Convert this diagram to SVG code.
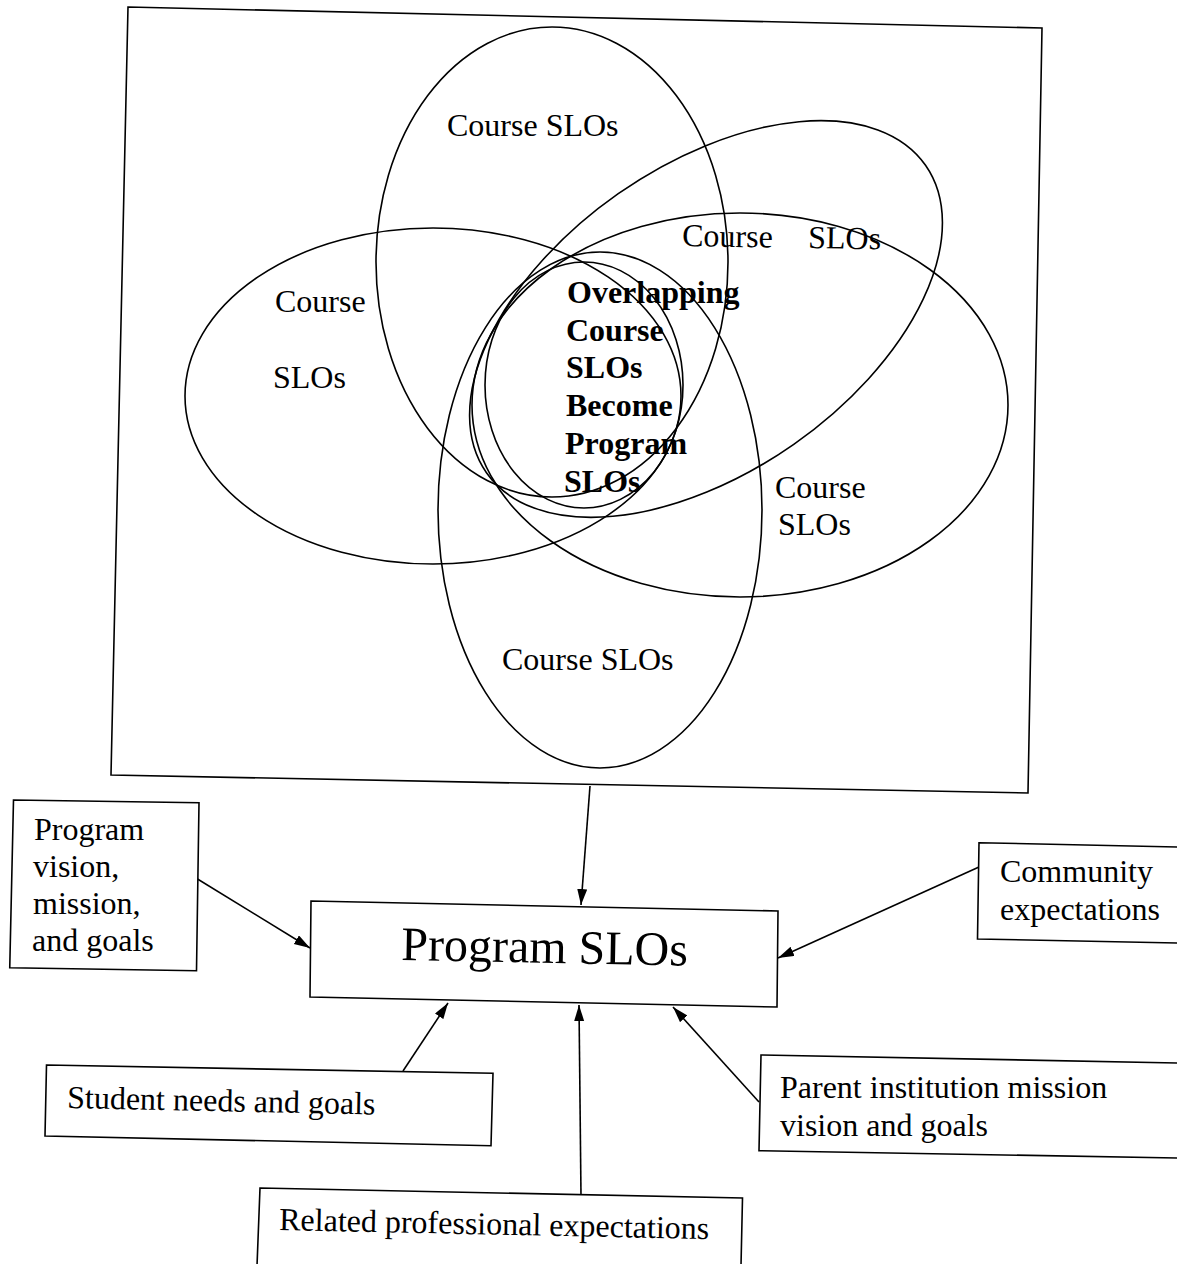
<svg xmlns="http://www.w3.org/2000/svg" width="1177" height="1264" viewBox="0 0 1177 1264">
<defs>
<style>
.ln{fill:none;stroke:#000;stroke-width:1.6}
.bx{fill:#fff;stroke:#000;stroke-width:1.6}
.t{font-family:"Liberation Serif","Times New Roman",serif;font-size:32px;fill:#000}
.b{font-weight:bold}
.big{font-size:48px}
.cn{fill:none;stroke:#000;stroke-width:1.6}
</style>
<marker id="ah" markerUnits="userSpaceOnUse" markerWidth="17" markerHeight="11" refX="16" refY="5" orient="auto">
<path d="M0,0 L16,5 L0,10 z" fill="#000"/>
</marker>
</defs>
<rect width="1177" height="1264" fill="#fff"/>

<g id="venn-frame">
<polygon class="ln" points="128,7 1042,28 1028,793 111,775"/>
</g>

<g id="ellipses">
<ellipse id="e-top" class="ln" cx="552" cy="262" rx="176" ry="235"/>
<ellipse id="e-left" class="ln" cx="433" cy="396" rx="248" ry="168"/>
<ellipse id="e-tilted" class="ln" cx="706" cy="319" rx="268" ry="153" transform="rotate(-35 706 319)"/>
<ellipse id="e-right" class="ln" cx="740" cy="405" rx="268" ry="192"/>
<ellipse id="e-bottom" class="ln" cx="600" cy="510" rx="162" ry="258"/>
<ellipse id="e-inner" class="ln" cx="584" cy="385" rx="99" ry="123"/>
</g>

<g id="venn-labels">
<text class="t" x="447" y="136">Course SLOs</text>
<text class="t" x="275" y="312">Course</text>
<text class="t" x="273" y="388">SLOs</text>
<text class="t" x="682" y="246" transform="rotate(1 682 246)">Course</text>
<text class="t" x="808" y="248" transform="rotate(1 808 248)">SLOs</text>
<text class="t" x="775" y="498">Course</text>
<text class="t" x="778" y="535">SLOs</text>
<text class="t" x="502" y="670">Course SLOs</text>
<g id="center-label">
<text class="t b" x="567" y="303">Overlapping</text>
<text class="t b" x="566" y="341">Course</text>
<text class="t b" x="566" y="378">SLOs</text>
<text class="t b" x="566" y="416">Become</text>
<text class="t b" x="565" y="454">Program</text>
<text class="t b" x="564" y="492">SLOs</text>
</g>
</g>

<g id="connectors">
<line class="cn" x1="590" y1="786" x2="581" y2="905" marker-end="url(#ah)"/>
<line class="cn" x1="191" y1="875" x2="310" y2="948" marker-end="url(#ah)"/>
<line class="cn" x1="979" y1="867" x2="778" y2="958" marker-end="url(#ah)"/>
<line class="cn" x1="403" y1="1071" x2="448" y2="1003" marker-end="url(#ah)"/>
<line class="cn" x1="581" y1="1195" x2="579" y2="1005" marker-end="url(#ah)"/>
<line class="cn" x1="759" y1="1102" x2="673" y2="1007" marker-end="url(#ah)"/>
</g>

<g id="node-program-slos">
<polygon class="bx" points="311,901 778,911 777,1007 310,997"/>
<text class="t big" x="401" y="960" transform="rotate(1.1 401 960)">Program SLOs</text>
</g>

<g id="node-vision">
<polygon class="bx" points="13.5,800 199,802.7 196.5,970.7 9.75,967.7"/>
<text class="t"><tspan x="34" y="840">Program</tspan><tspan x="33" y="877">vision,</tspan><tspan x="33" y="914">mission,</tspan><tspan x="32" y="951">and goals</tspan></text>
</g>

<g id="node-community">
<polygon class="bx" points="979,842.7 1180,847 1180,943 977.5,939"/>
<text class="t"><tspan x="1000" y="882">Community</tspan><tspan x="1000" y="920">expectations</tspan></text>
</g>

<g id="node-student">
<polygon class="bx" points="46.5,1065 493,1073.3 491,1145.7 45,1136"/>
<text class="t" x="67" y="1108" transform="rotate(1.2 67 1108)">Student needs and goals</text>
</g>

<g id="node-parent">
<polygon class="bx" points="761,1055 1180,1063 1180,1158 759,1150.7"/>
<text class="t"><tspan x="780" y="1098">Parent institution mission</tspan><tspan x="780" y="1136">vision and goals</tspan></text>
</g>

<g id="node-related">
<polygon class="bx" points="260,1188 742.5,1198 741,1266 257,1266"/>
<text class="t" x="279" y="1230" transform="rotate(1.2 279 1230)">Related professional expectations</text>
</g>
</svg>
